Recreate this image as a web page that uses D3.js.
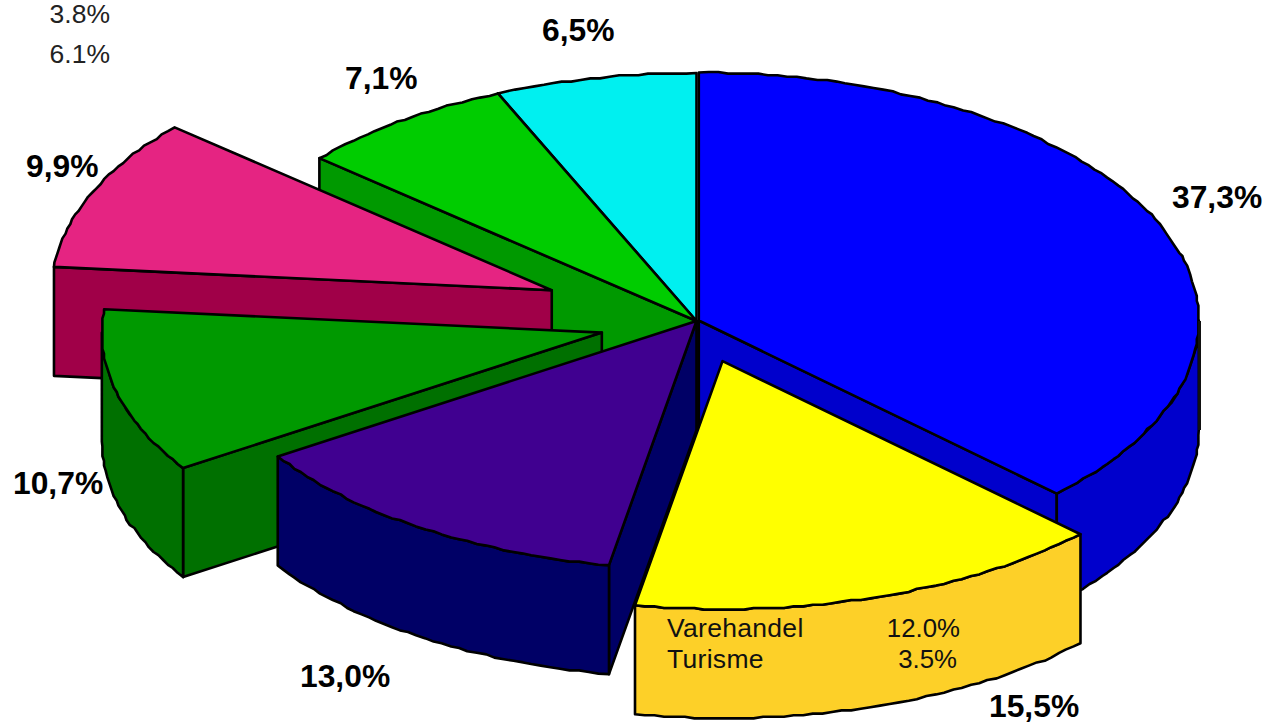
<!DOCTYPE html>
<html><head><meta charset="utf-8">
<style>html,body{margin:0;background:#fff;overflow:hidden}svg{display:block}text{font-family:"Liberation Sans",Arial,sans-serif}</style>
<script src="https://cdn.jsdelivr.net/npm/d3@7/dist/d3.min.js"></script>
</head><body><svg id="c" width="1266" height="723"></svg>
<script>
const sliceNames = ["Blue","Yellow","Purple","DarkGreen","Pink","Green","Cyan"];
const sliceValues = [37.3,15.5,13.0,10.7,9.9,7.1,6.5];
const sliceLabels = ["37,3%","15,5%","13,0%","10,7%","9,9%","7,1%","6,5%"];
const sliceExplode = [0.005,0.17,0,0.195,0.315,0,0];
const topColors = ["#0000ff","#ffff00","#400090","#009900","#e52482","#00cc00","#00f0f0"];
const wallColors = ["#0000cc","#fdd028","#000066","#007000","#a00048","#009900","#3f8f9f"];
const labelPos = [[1172,208],[989,717],[300,687],[13,494],[26,177],[345,89],[542,41]];
const noteRows = [["Varehandel","12.0%",637,960],["Turisme","3.5%",668,957]];
const cornerNotes = [["3.8%",23],["6.1%",63]];
const paintOrder = [6,5,4,3,2,0,1];

const cx=696.5,cy=321,rx=500,ry=248,depth=109,snap=1.6;
const sx=d3.scaleLinear().domain([-1,1]).range([cx-rx,cx+rx]);
const sy=d3.scaleLinear().domain([-1,1]).range([cy-ry,cy+ry]);
const svg=d3.select("#c");
const pie=d3.pie().sort(null).value(d=>d)(sliceValues);
const line=d3.line().x(d=>d[0]).y(d=>d[1]);
const Q=Math.PI/2;

function pt(a,r,off,h){return [sx(r*Math.sin(a)+off[0]),sy(-r*Math.cos(a)+off[1])+h];}
function rim(a0,a1,off,h){
  const n=Math.max(2,Math.ceil((a1-a0)/0.02));
  return d3.range(n+1).map(i=>{
    const q=pt(a0+(a1-a0)*i/n,1,off,h);
    return (i===0||i===n)?q:[Math.round(q[0]/snap)*snap,Math.round(q[1]/snap)*snap];
  });
}
function drawPath(pts,fill){svg.append("path").attr("d",line(pts)+"Z").attr("fill",fill).attr("stroke","#000").attr("stroke-width",2.6).attr("stroke-linejoin","round");}

paintOrder.forEach(i=>{
  const p=pie[i],a=p.startAngle,b=p.endAngle,mid=(a+b)/2,e=sliceExplode[i];
  const off=[e*Math.sin(mid),-e*Math.cos(mid)];
  const wall=wallColors[i];
  if(Math.sin(a)<-0.01){const A=pt(0,0,off,0),B=pt(a,1,off,0);drawPath([A,B,[B[0],B[1]+depth],[A[0],A[1]+depth]],wall);}
  if(Math.sin(b)>0.01){const A=pt(0,0,off,0),B=pt(b,1,off,0);drawPath([A,B,[B[0],B[1]+depth],[A[0],A[1]+depth]],wall);}
  const w0=Math.max(a,Q),w1=Math.min(b,3*Q);
  if(w1>w0){const t=rim(w0,w1,off,0),u=rim(w0,w1,off,depth).reverse();drawPath(t.concat(u),wall);}
  drawPath([pt(0,0,off,0)].concat(rim(a,b,off,0)),topColors[i]);
});

svg.append("line").attr("x1",sx(1)+3).attr("x2",sx(1)+3).attr("y1",sy(0)).attr("y2",sy(0)+depth).attr("stroke","#111").attr("stroke-width",3);

svg.selectAll(".lab").data(sliceLabels).join("text").attr("class","lab")
  .attr("x",(d,i)=>labelPos[i][0]).attr("y",(d,i)=>labelPos[i][1])
  .attr("font-size",31.8).attr("font-weight","bold").attr("fill","#000").text(d=>d);

noteRows.forEach(r=>{
  svg.append("text").attr("x",667).attr("y",r[2]).attr("font-size",26.5).attr("letter-spacing",0.3).attr("fill","#111").text(r[0]);
  svg.append("text").attr("x",r[3]).attr("y",r[2]).attr("text-anchor","end").attr("font-size",25.8).attr("fill","#111").text(r[1]);
});
cornerNotes.forEach(r=>{
  svg.append("text").attr("x",110).attr("y",r[1]).attr("text-anchor","end").attr("font-size",26.5).attr("fill","#222").text(r[0]);
});
</script></body></html>
